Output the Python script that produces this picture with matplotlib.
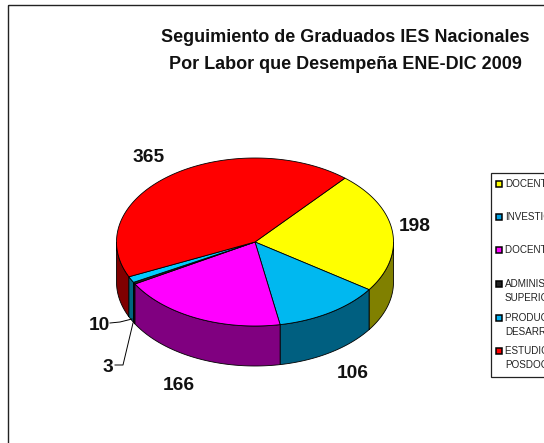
import numpy as np
import matplotlib
matplotlib.use("Agg")
import matplotlib.pyplot as plt
from matplotlib.patches import Rectangle

plt.rcParams['font.family'] = ['Liberation Sans', 'DejaVu Sans']

categories = ["DOCENTE", "INVESTIGADOR", "DOCENTE E INVESTIGADOR",
              "ADMINISTRADOR\nSUPERIOR", "PRODUCCION Y\nDESARROLLO", "ESTUDIOS DE\nPOSDOCTORADO"]
values = [198, 106, 166, 3, 10, 365]
top_colors = ["#FFFF00", "#00B8F0", "#FF00FF", "#222222", "#00CCFF", "#FF0000"]
side_colors = ["#808000", "#005F80", "#800080", "#111111", "#006680", "#800000"]
legend_colors = ["#FFFF00", "#00A0E0", "#FF00FF", "#222222", "#00B0F0", "#FF0000"]
title_lines = "Seguimiento de Graduados IES Nacionales\nPor Labor que Desempeña ENE-DIC 2009"

W, H = 544, 443
fig = plt.figure(figsize=(W/100, H/100), dpi=100)
ax = fig.add_axes([0, 0, 1, 1])
ax.set_xlim(0, W); ax.set_ylim(H, 0); ax.axis('off')

# outer chart frame
ax.add_patch(Rectangle((8, 5), W, 600, fill=False, ec='#222222', lw=1.0, clip_on=True))

cx, cy, rx, ry, depth = 255, 242, 138.5, 84, 40
start = 40.5
edges = start + np.concatenate([[0], np.cumsum(values)]) / np.sum(values) * 360

def arc(a0, a1, n=120):
    t = np.radians(np.linspace(a0, a1, n))
    return cx + rx*np.sin(t), cy - ry*np.cos(t)

# side walls (front half: 90..270 deg clockwise from top)
order = np.argsort(-np.abs(((edges[:-1]+edges[1:])/2) - 180))
for i in order:
    a0, a1 = max(edges[i], 90), min(edges[i+1], 270)
    if a1 <= a0:
        continue
    x, y = arc(a0, a1)
    ax.fill(np.r_[x, x[::-1]], np.r_[y, y[::-1]+depth], fc=side_colors[i], ec='black', lw=0.6, zorder=2)

# top faces
for i, col in enumerate(top_colors):
    x, y = arc(edges[i], edges[i+1])
    ax.fill(np.r_[cx, x], np.r_[cy, y], fc=col, ec='black', lw=0.6, zorder=3)

ax.text(345, 51, title_lines, ha='center', va='center', fontsize=13, fontweight='bold',
        linespacing=1.8, color='#111111')

# data labels
label_pos = [(415, 226), (353, 374), (179, 386), (99, 325), (108, 367), (149, 157)]
label_order = [0, 1, 2, 4, 3, 5]
for k, (lx, ly) in zip(label_order, label_pos):
    ax.text(lx, ly, str(values[k]), ha='center', va='center', fontsize=13.8, fontweight='bold', color='#111111')

# leader lines
ax.plot([115, 123, 133], [365, 365, 323], color='black', lw=0.7, zorder=4)
ax.plot([110, 120, 132], [323, 322, 319], color='black', lw=0.7, zorder=4)

# legend
ax.add_patch(Rectangle((491, 173), 100, 204, fc='white', ec='#222222', lw=0.9, zorder=5))
legend_y = [184, 217, 250, 284, 318, 351]
for name, col, ly in zip(categories, legend_colors, legend_y):
    ax.add_patch(Rectangle((496, ly-3), 6, 6, fc=col, ec='black', lw=1.1, zorder=6))
    if '\n' in name:
        ly += 7
    ax.text(505, ly, name, ha='left', va='center', fontsize=7.1, color='#222222',
            linespacing=1.5, zorder=6, clip_on=True)

fig.savefig("out.png", dpi=100, facecolor='white')
